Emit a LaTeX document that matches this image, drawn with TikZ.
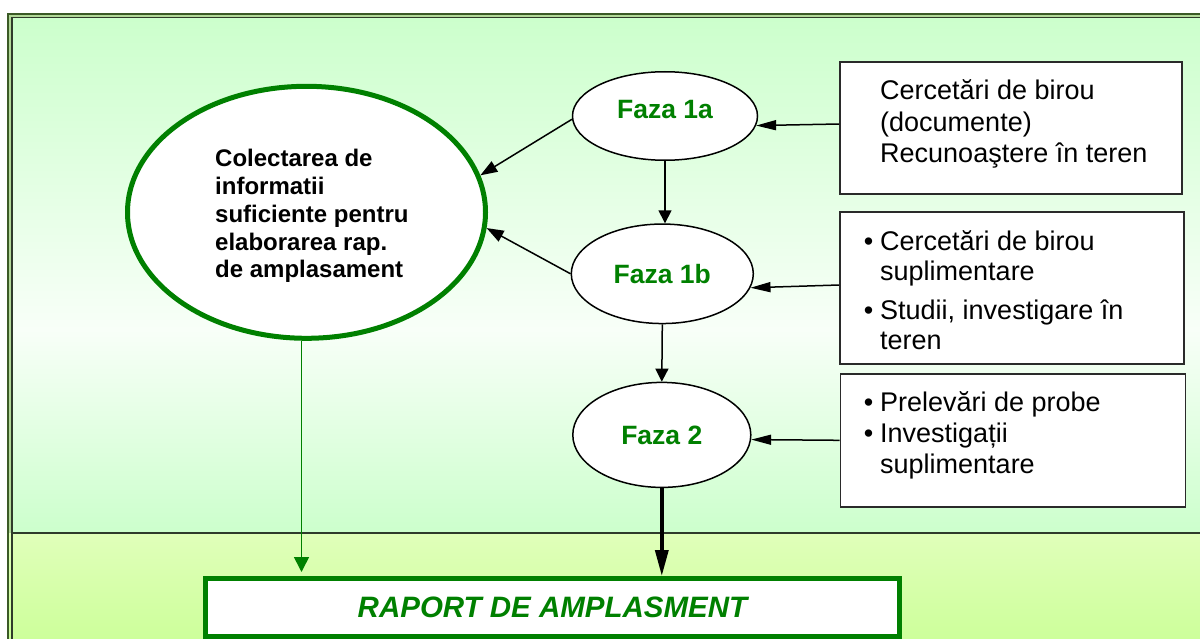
\documentclass[tikz,border=0pt]{standalone}
\usepackage{fontspec}
\setmainfont{Liberation Sans}
\usetikzlibrary{arrows.meta,shapes.geometric}
\definecolor{fgreen}{HTML}{008000}
\definecolor{framegreen}{HTML}{3B5A26}
\definecolor{stripgreen}{HTML}{B2D898}
\definecolor{panelgreen}{HTML}{CCFFCC}
\definecolor{panelmid}{HTML}{F8FFF8}
\definecolor{lowtop}{HTML}{E0FFBA}
\definecolor{lowbot}{HTML}{CCFF99}
\definecolor{panelline}{HTML}{2F3B2B}
\definecolor{boxline}{HTML}{2A2A2A}
\newcommand{\mybul}{\llap{\textbullet\hspace{7pt}}}
\begin{document}
\begin{tikzpicture}[x=1pt,y=-1pt,
  phasenode/.style={ellipse,draw=black,line width=1.5pt,fill=white,text=fgreen,inner sep=0pt,
    font=\bfseries\fontsize{26.5}{30}\selectfont},
  bigell/.style={ellipse,draw=fgreen,line width=5pt,fill=white,inner sep=0pt},
  infobox/.style={rectangle,draw=boxline,line width=1.8pt,fill=white,inner sep=0pt},
  boxtext/.style={anchor=base west,inner sep=0pt,align=left},
  reportbox/.style={rectangle,draw=fgreen,line width=5pt,fill=white,inner sep=0pt,text=fgreen,
    font=\bfseries\itshape\fontsize{29.5}{32}\selectfont},
  harr/.style={line width=1.5pt,-{Triangle[length=20pt,width=10pt]}},
  varr/.style={line width=1.5pt,-{Triangle[length=13pt,width=13pt]}},
  darr/.style={line width=1.5pt,-{Triangle[length=17pt,width=12pt]}},
  thickarr/.style={line width=3.5pt,-{Triangle[length=26pt,width=13pt]}},
  greenarr/.style={draw=fgreen,line width=1.6pt,-{Triangle[length=15pt,width=15pt]}}
]
\useasboundingbox (0,0) rectangle (1200,639);
\clip (0,0) rectangle (1200,639);
\fill[white] (0,0) rectangle (1200,639);
% frame and backgrounds
\fill[stripgreen] (8,14) rectangle (1210,540);
\shade[top color=lowtop,bottom color=lowbot] (8,533) rectangle (1210,645);
\shade[top color=panelgreen,bottom color=panelmid] (12,17.5) rectangle (1210,330);
\shade[top color=panelmid,bottom color=panelgreen] (12,329.5) rectangle (1210,533);
\draw[panelline,line width=1.5pt] (12,660) -- (12,17.5) -- (1210,17.5);
\draw[panelline,line width=1.5pt] (12,533) -- (1210,533);
\draw[framegreen,line width=2.6pt] (8,660) -- (8,14) -- (1210,14);
% nodes
\node[bigell,minimum width=358pt,minimum height=252pt] (big) at (306.5,212.3) {};
\node[boxtext,font=\bfseries\fontsize{24}{27.8}\selectfont] (bigtxt) at (215,278)
  {Colectarea de\\informatii\\suficiente pentru\\elaborarea rap.\\de amplasament};
\node[phasenode,minimum width=185pt,minimum height=88.5pt,text depth=14pt] (f1a) at (665,116) {Faza 1a};
\node[phasenode,minimum width=182pt,minimum height=99.5pt] (f1b) at (662.3,273.8) {Faza 1b};
\node[phasenode,minimum width=178pt,minimum height=105pt] (f2) at (661.8,434.9) {Faza 2};
\node[infobox,minimum width=342pt,minimum height=132pt] (b1) at (1011,128) {};
\node[infobox,minimum width=344pt,minimum height=152pt] (b2) at (1012,288) {};
\node[infobox,minimum width=345pt,minimum height=133pt] (b3) at (1013,440.3) {};
\node[boxtext,font=\fontsize{27}{31.4}\selectfont] (t1) at (880,162.8)
  {Cercetări de birou\\(documente)\\Recunoaştere în teren};
\node[boxtext,font=\fontsize{27}{30}\selectfont] (t2) at (880,349)
  {\mybul Cercetări de birou\\suplimentare\\[9pt]\mybul Studii, investigare în\\teren};
\node[boxtext,font=\fontsize{27}{31}\selectfont] (t3) at (880,473)
  {\mybul Prelevări de probe\\\mybul Investigații\\suplimentare};
\node[reportbox,minimum width=694pt,minimum height=58pt] (rap) at (552.5,607.5) {RAPORT DE AMPLASMENT};
% connectors
\draw[harr] ([yshift=4pt]b1.west) -- (f1a.-6);
\draw[harr] ([yshift=3pt]b2.west) -- (f1b.-9);
\draw[harr] (b3.west) -- (f2.-3);
\draw[varr] (f1a.south) -- (f1a.south |- f1b.north);
\draw[varr] (f1b.south) -- (f2.north);
\draw[darr] (f1a.182) -- (big.12);
\draw[darr] (f1b.west) -- (big.-5);
\draw[thickarr] (f2.south) -- (f2.south |- rap.north);
\coordinate (gs) at ([xshift=-5pt]big.south);
\draw[greenarr,shorten >=4pt] (gs) -- (gs |- rap.north);
\end{tikzpicture}
\end{document}
